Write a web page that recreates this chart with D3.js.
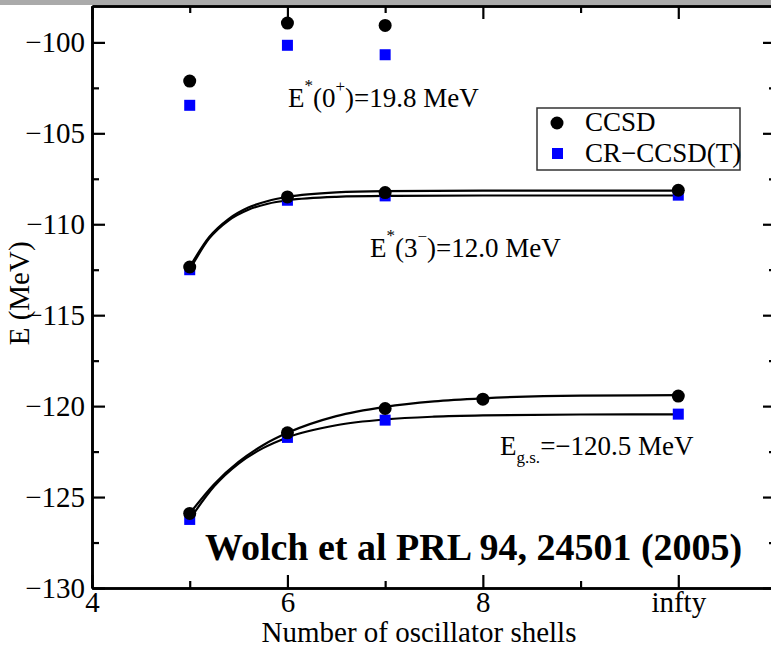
<!DOCTYPE html>
<html>
<head>
<meta charset="utf-8">
<script src="https://cdn.jsdelivr.net/npm/d3@7"></script>
<style>
  body { margin: 0; background: #fff; }
  svg { display: block; font-family: "Liberation Serif", "Times New Roman", serif; }
</style>
</head>
<body>
<div id="chart"></div>
<script>
// shells (x) and energies
const shells = [5, 6, 7, 10]
const shellsGs = [5, 6, 7, 8, 10]

const ccsd0 = [-102.13, -98.94, -99.07]
const crcc0 = [-103.46, -100.16, -100.68]
const ccsd3 = [-112.35, -108.5, -108.26, -108.13]
const crcc3 = [-112.5, -108.68, -108.44, -108.4]
const ccsdGs = [-125.9, -121.47, -120.13, -119.62, -119.45]
const crccGs = [-126.23, -121.72, -120.77, -120.44]

// fitted curves
const fitX3 = [5, 5.2, 5.4, 5.6, 5.8, 6, 6.5, 7, 8, 10]
const fitCcsd3 = [-112.35, -110.7, -109.7, -109.08, -108.72, -108.5, -108.25, -108.18, -108.15, -108.15]
const fitCrcc3 = [-112.5, -110.78, -109.78, -109.2, -108.87, -108.68, -108.49, -108.44, -108.42, -108.42]
const fitXGs = [5, 5.25, 5.5, 5.75, 6, 6.5, 7, 7.5, 8, 9, 10]
const fitCcsdGs = [-125.9, -124.29, -123.07, -122.15, -121.47, -120.55, -120.04, -119.74, -119.57, -119.42, -119.4]
const fitCrccGs = [-126.23, -124.41, -123.16, -122.31, -121.72, -121.05, -120.73, -120.58, -120.51, -120.46, -120.45]

const xMajor = [4, 6, 8, 10]
const xLabels = ['4', '6', '8', 'infty']
const xMinor = [5, 7, 9, 11]
const yMajor = [-130, -125, -120, -115, -110, -105, -100]
const yMinor = [-127.5, -122.5, -117.5, -112.5, -107.5, -102.5]

const width = 771, height = 648
const plotLeft = 92, plotRight = 776, plotTop = 6, plotBottom = 588

const svg = d3.select('#chart').append('svg')
    .attr('width', width)
    .attr('height', height)
    .style('background', '#fff')

// grey strip left by the screenshot crop
svg.append('rect').attr('x', 0).attr('y', 0).attr('width', width).attr('height', 5).attr('fill', '#aaa')

const x = d3.scaleLinear().domain([4, 11]).range([plotLeft, plotRight])
const y = d3.scaleLinear().domain([-130, -98]).range([plotBottom, plotTop])

const styleAxis = (g) => {
    g.select('.domain').attr('stroke', '#000').attr('stroke-width', 2.6)
    g.selectAll('.tick line').attr('stroke', '#000').attr('stroke-width', 2.2)
    g.selectAll('.tick text').attr('fill', '#000').style('font-size', '29px')
        .style('font-family', '"Liberation Serif", "Times New Roman", serif')
}

// bottom
svg.append('g').attr('transform', `translate(0,${plotBottom})`)
    .call(d3.axisBottom(x).tickValues(xMajor).tickSize(-13).tickSizeOuter(0).tickPadding(3)
        .tickFormat((d, i) => xLabels[i]))
    .call(styleAxis)
svg.append('g').attr('transform', `translate(0,${plotBottom})`)
    .call(d3.axisBottom(x).tickValues(xMinor).tickSize(-7).tickSizeOuter(0).tickFormat(''))
    .call(styleAxis)
// top
svg.append('g').attr('transform', `translate(0,${plotTop})`)
    .call(d3.axisTop(x).tickValues(xMajor).tickSize(-13).tickSizeOuter(0).tickFormat(''))
    .call(styleAxis)
svg.append('g').attr('transform', `translate(0,${plotTop})`)
    .call(d3.axisTop(x).tickValues(xMinor).tickSize(-7).tickSizeOuter(0).tickFormat(''))
    .call(styleAxis)
// left
svg.append('g').attr('transform', `translate(${plotLeft},0)`)
    .call(d3.axisLeft(y).tickValues(yMajor).tickSize(-13).tickSizeOuter(0).tickPadding(7))
    .call(styleAxis)
svg.append('g').attr('transform', `translate(${plotLeft},0)`)
    .call(d3.axisLeft(y).tickValues(yMinor).tickSize(-7).tickSizeOuter(0).tickFormat(''))
    .call(styleAxis)
// right
svg.append('g').attr('transform', `translate(${plotRight},0)`)
    .call(d3.axisRight(y).tickValues(yMajor).tickSize(-13).tickSizeOuter(0).tickFormat(''))
    .call(styleAxis)
svg.append('g').attr('transform', `translate(${plotRight},0)`)
    .call(d3.axisRight(y).tickValues(yMinor).tickSize(-7).tickSizeOuter(0).tickFormat(''))
    .call(styleAxis)

// fit curves
const line = d3.line().x(d => x(d[0])).y(d => y(d[1])).curve(d3.curveMonotoneX)
const curves = [
    d3.zip(fitX3, fitCcsd3), d3.zip(fitX3, fitCrcc3),
    d3.zip(fitXGs, fitCcsdGs), d3.zip(fitXGs, fitCrccGs)
]
svg.append('g').selectAll('path').data(curves).join('path')
    .attr('d', line)
    .attr('fill', 'none')
    .attr('stroke', '#000')
    .attr('stroke-width', 2.2)

// points
const circles = [].concat(
    d3.zip(shells, ccsd0), d3.zip(shells, ccsd3), d3.zip(shellsGs, ccsdGs)
)
const squares = [].concat(
    d3.zip(shells, crcc0), d3.zip(shells, crcc3), d3.zip(shells, crccGs)
)
svg.append('g').selectAll('rect').data(squares).join('rect')
    .attr('x', d => x(d[0]) - 5.5)
    .attr('y', d => y(d[1]) - 5.5)
    .attr('width', 11).attr('height', 11)
    .attr('fill', '#0000ff')
svg.append('g').selectAll('circle').data(circles).join('circle')
    .attr('cx', d => x(d[0]))
    .attr('cy', d => y(d[1]))
    .attr('r', 6.5)
    .attr('fill', '#000')

// annotations
const note = (px, py) => svg.append('text').attr('x', px).attr('y', py)
    .style('font-size', '27px').attr('fill', '#000')

const t0 = note(288, 107)
t0.append('tspan').text('E')
t0.append('tspan').text('*').attr('dy', -16).style('font-size', '17px')
t0.append('tspan').text('(0').attr('dy', 16)
t0.append('tspan').text('+').attr('dy', -15).style('font-size', '17px')
t0.append('tspan').text(')=19.8 MeV').attr('dy', 15)

const t3 = note(370, 257)
t3.append('tspan').text('E')
t3.append('tspan').text('*').attr('dy', -16).style('font-size', '17px')
t3.append('tspan').text('(3').attr('dy', 16)
t3.append('tspan').text('\u2212').attr('dy', -15).style('font-size', '17px')
t3.append('tspan').text(')=12.0 MeV').attr('dy', 15)

const tg = note(500, 455)
tg.append('tspan').text('E')
tg.append('tspan').text('g.s.').attr('dy', 8).style('font-size', '17px')
tg.append('tspan').text('=\u2212120.5 MeV').attr('dy', -8)

svg.append('text')
    .attr('x', 205).attr('y', 560)
    .style('font-size', '38px').style('font-weight', 'bold')
    .text('Wolch et al PRL 94, 24501 (2005)')

// axis titles
svg.append('text')
    .attr('x', 419).attr('y', 642)
    .attr('text-anchor', 'middle')
    .style('font-size', '29px')
    .text('Number of oscillator shells')
svg.append('text')
    .attr('transform', `translate(29,${y(-113.8)}) rotate(-90)`)
    .attr('text-anchor', 'middle')
    .style('font-size', '29px')
    .text('E (MeV)')

// legend
const legend = svg.append('g').attr('transform', 'translate(537,108)')
legend.append('rect').attr('width', 203).attr('height', 62)
    .attr('fill', '#fff').attr('stroke', '#333').attr('stroke-width', 1.5)
legend.append('circle').attr('cx', 20).attr('cy', 15).attr('r', 6.5).attr('fill', '#000')
legend.append('rect').attr('x', 15).attr('y', 40).attr('width', 11).attr('height', 11).attr('fill', '#0000ff')
legend.append('text').attr('x', 48).attr('y', 23).style('font-size', '27px').text('CCSD')
legend.append('text').attr('x', 48).attr('y', 54).style('font-size', '27px').text('CR\u2212CCSD(T)')
</script>
</body>
</html>
